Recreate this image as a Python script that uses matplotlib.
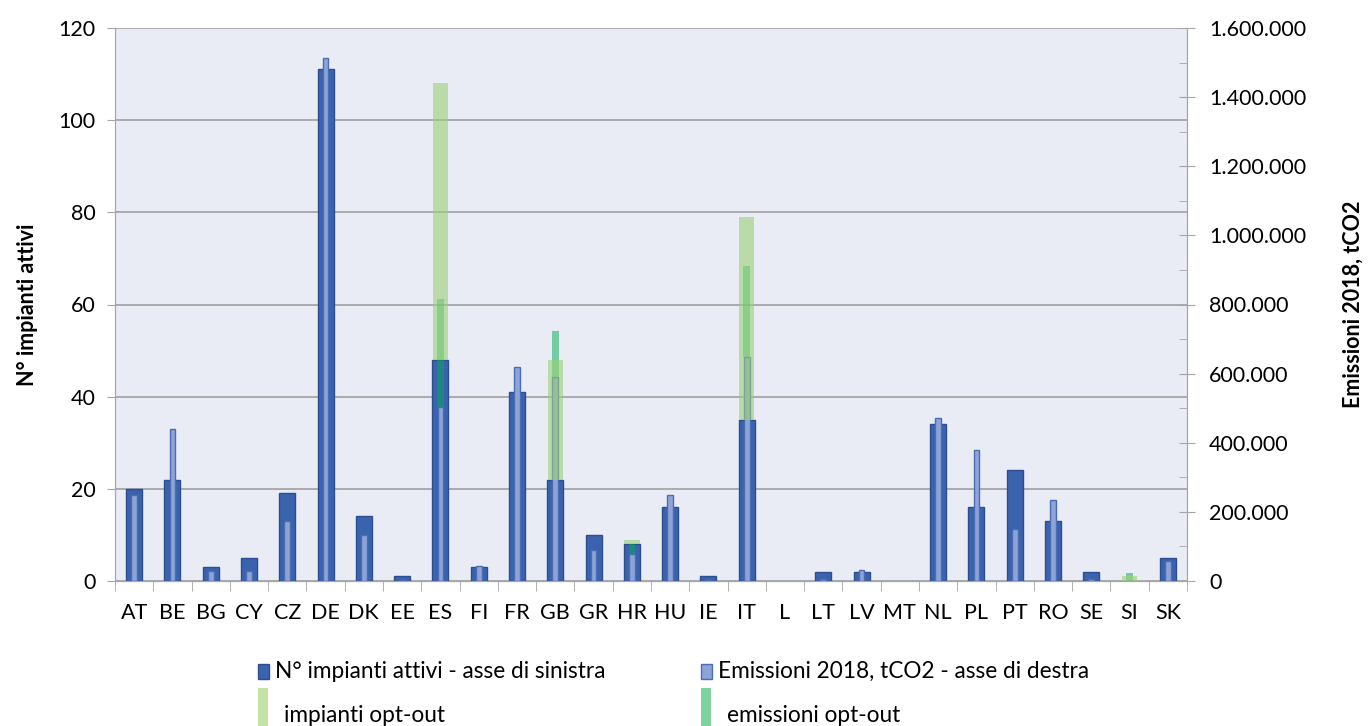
import numpy as np
import matplotlib.pyplot as plt
from matplotlib.patches import Rectangle
from matplotlib.ticker import FuncFormatter, MultipleLocator

# dati
paesi = ['AT', 'BE', 'BG', 'CY', 'CZ', 'DE', 'DK', 'EE', 'ES', 'FI', 'FR', 'GB', 'GR', 'HR',
         'HU', 'IE', 'IT', 'L', 'LT', 'LV', 'MT', 'NL', 'PL', 'PT', 'RO', 'SE', 'SI', 'SK']
impianti_attivi = [20, 22, 3, 5, 19, 111, 14, 1, 48, 3, 41, 22, 10, 8,
                   16, 1, 35, 0, 2, 2, 0, 34, 16, 24, 13, 2, 0, 5]
emissioni_2018 = [250000, 440000, 29000, 29000, 173000, 1512000, 134000, 2000, 502000, 43000,
                  618000, 589000, 91000, 77000, 249000, 2000, 649000, 0, 5000, 33000, 0,
                  473000, 379000, 150000, 234000, 7000, 0, 59000]
impianti_opt_out = [0, 0, 0, 0, 0, 0, 0, 0, 60, 0, 0, 26, 0, 1,
                    0, 0, 44, 0, 0, 0, 0, 0, 0, 0, 0, 0, 1, 0]
emissioni_opt_out = [0, 0, 0, 0, 0, 0, 0, 0, 313000, 0, 0, 134000, 0, 29000,
                     0, 0, 262000, 0, 0, 0, 0, 0, 0, 0, 0, 0, 23000, 0]

def migliaia(v, pos):
  return f'{int(v):,}'.replace(',', '.')

def main():
  plt.rcParams['font.family'] = ['Lato', 'DejaVu Sans']
  tam = 15.5
  col_asse = '#A6A6A6'

  x = np.arange(len(paesi))

  #* niente bordo per le barre a zero
  bordo_blu = ['#2C4E8F' if v > 0 else 'none' for v in impianti_attivi]
  bordo_em = ['#4A6DB3' if v > 0 else 'none' for v in emissioni_2018]

  fig = plt.figure(figsize=(13.7, 7.26), dpi=100)
  ax = fig.add_axes([115/1370, 1-581/726, (1187-115)/1370, (581-28)/726])
  ax.set_facecolor('#E9EBF5')

  #* barre N° impianti (asse sinistro)
  ax.bar(x, impianti_attivi, width=0.42, color='#3B63AD', edgecolor=bordo_blu, lw=1, zorder=3)
  ax.set_xlim(-0.5, len(paesi)-0.5)
  ax.set_ylim(0, 120)
  ax.yaxis.set_major_locator(MultipleLocator(20))
  ax.grid(axis='y', color='#A0A0A0', lw=1.2, zorder=0)
  ax.set_axisbelow(True)

  #* assi
  for s in ['left', 'right', 'bottom', 'top']:
    ax.spines[s].set_color(col_asse)
  ax.spines['top'].set_visible(False)
  ax.set_xticks(x)
  ax.set_xticklabels(paesi, fontsize=tam)
  ax.set_xticks(np.arange(-0.5, len(paesi)), minor=True)
  ax.tick_params(axis='x', which='major', length=0, pad=16)
  ax.tick_params(axis='x', which='minor', length=7, color=col_asse)
  ax.tick_params(axis='y', labelsize=tam, length=6, color=col_asse, pad=8)
  ax.set_ylabel('N° impianti attivi', fontsize=tam, fontweight='bold', labelpad=15)

  #* asse destro: emissioni
  ax2 = ax.twinx()
  ax2.bar(x, emissioni_2018, width=0.15, color='#8EA3D6', edgecolor=bordo_em, lw=1, zorder=3)
  ax2.bar(x, emissioni_opt_out, width=0.17, bottom=emissioni_2018, color='#00B050', alpha=0.5, lw=0, zorder=4)
  ax2.set_ylim(0, 1600000)
  ax2.yaxis.set_major_locator(MultipleLocator(200000))
  ax2.yaxis.set_minor_locator(MultipleLocator(100000))
  ax2.yaxis.set_major_formatter(FuncFormatter(migliaia))
  ax2.tick_params(axis='y', which='major', labelsize=tam, direction='inout', length=12, color=col_asse, pad=10)
  ax2.tick_params(axis='y', which='minor', direction='in', length=6, color=col_asse)
  for s in ['left', 'right', 'bottom', 'top']:
    ax2.spines[s].set_color(col_asse)
  ax2.spines['top'].set_visible(False)
  ax2.set_ylabel('Emissioni 2018, tCO2', fontsize=tam, fontweight='bold', labelpad=26)

  #* impianti opt-out sopra le barre blu (stesso asse sinistro)
  ax3 = ax.twinx()
  ax3.bar(x, impianti_opt_out, width=0.40, bottom=impianti_attivi, color='#9CCF78', alpha=0.6, lw=0)
  ax3.set_ylim(ax.get_ylim())
  ax3.axis('off')

  #! legenda disegnata a mano
  def voce(px, py, w, h, colore, bordo, testo, ty, dx=10):
    fig.add_artist(Rectangle((px/1370, 1-(py+h)/726), w/1370, h/726, transform=fig.transFigure,
                             facecolor=colore, edgecolor=bordo, lw=1))
    fig.text((px+w+dx)/1370, 1-ty/726, testo, fontsize=tam+0.8, va='center', ha='left')

  voce(258, 664, 11, 15, '#3B63AD', '#2C4E8F', 'N° impianti attivi - asse di sinistra', 671, 6)
  voce(701, 664, 11, 15, '#8EA3D6', '#4A6DB3', 'Emissioni 2018, tCO2 - asse di destra', 671, 6)
  voce(258, 688, 10, 38, '#C4E3A6', 'none', 'impianti opt-out', 715, 16)
  voce(701, 688, 10, 38, '#7ED3A0', 'none', 'emissioni opt-out', 715, 16)

  plt.savefig('out.png', dpi=100)

if __name__ == "__main__":
  main()
